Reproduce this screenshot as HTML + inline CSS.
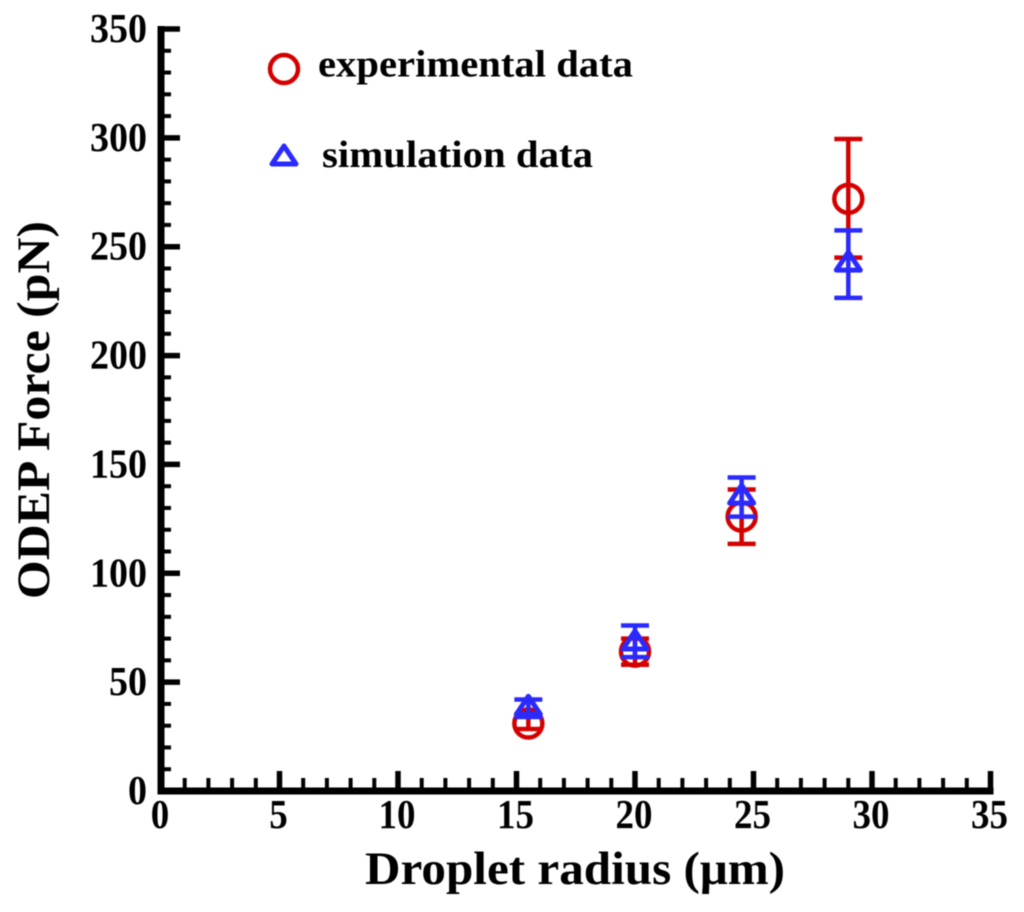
<!DOCTYPE html>
<html>
<head>
<meta charset="utf-8">
<title>ODEP Force vs Droplet radius</title>
<style>
html,body{margin:0;padding:0;background:#fff;}
svg{display:block;filter:blur(0.65px);}
text{font-family:"Liberation Serif",serif;font-weight:bold;fill:#000;}
</style>
</head>
<body>
<svg id="chart" xmlns="http://www.w3.org/2000/svg" width="1024" height="912" viewBox="0 0 1024 912">
  <g id="axes"></g>
  <g id="series-exp"></g>
  <g id="series-sim"></g>
  <text x="49" y="410" font-size="47" text-anchor="middle" transform="rotate(-90 49 410)" textLength="378" lengthAdjust="spacingAndGlyphs">ODEP Force (pN)</text>
  <text x="575" y="884" font-size="47" text-anchor="middle" textLength="420" lengthAdjust="spacingAndGlyphs">Droplet radius (μm)</text>
  <g>
    <circle cx="284" cy="69" r="14" fill="none" stroke="#d40000" stroke-width="4.5"></circle>
    <text x="318" y="76.5" font-size="38" textLength="315" lengthAdjust="spacingAndGlyphs">experimental data</text>
    <polygon points="284,146 296,164 272,164" fill="none" stroke="#2a2aff" stroke-width="5" stroke-linejoin="round"></polygon>
    <text x="322" y="167" font-size="38" textLength="271" lengthAdjust="spacingAndGlyphs">simulation data</text>
  </g>
</svg>
<script>
var xTicks = [0, 5, 10, 15, 20, 25, 30, 35];
var yTicks = [0, 50, 100, 150, 200, 250, 300, 350];
var radius = [15.5, 20, 24.5, 29];
var expValues = [31, 64, 126, 272];
var expUpper = [35, 70, 138.5, 299.5];
var expLower = [28.5, 58, 113.5, 245];
var simValues = [38, 68, 135, 242];
var simUpper = [42, 76, 144, 257.5];
var simLower = [34, 61.5, 126, 226.5];

var NS = 'http://www.w3.org/2000/svg';
function sx(v) { return 161 + v * (990.5 - 161) / 35; }
function sy(v) { return 791 - v * (791 - 29) / 350; }

function make(parent, tag, attrs) {
  var el = document.createElementNS(NS, tag);
  for (var k in attrs) { el.setAttribute(k, attrs[k]); }
  parent.appendChild(el);
  return el;
}

var axes = document.getElementById('axes');

var xAxisLine = make(axes, 'line', {x1: sx(0) - 3.5, x2: sx(35) + 3, y1: sy(0), y2: sy(0), stroke: '#000', 'stroke-width': 7});



var yAxisLine = make(axes, 'line', {x1: sx(0), x2: sx(0), y1: sy(350) - 3, y2: sy(0) + 3.5, stroke: '#000', 'stroke-width': 7});



xTicks.forEach(function (t, i) {
  if (i > 0) {
    var major = make(axes, 'line', {x1: sx(t), x2: sx(t), y1: sy(0), y2: 771, stroke: '#000', 'stroke-width': 5.5});
    
    
  }
  var xText = String(t);
  var label = make(axes, 'text', {x: sx(t) - 1, y: 828, 'font-size': 41, 'text-anchor': 'middle', textLength: xText.length * 18.5, lengthAdjust: 'spacingAndGlyphs'});
  label.textContent = xText;
  
  
  if (i < xTicks.length - 1) {
    var step = (xTicks[i + 1] - t) / 5;
    for (var m = 1; m < 5; m++) {
      var minor = make(axes, 'line', {x1: sx(t + m * step), x2: sx(t + m * step), y1: sy(0), y2: 778, stroke: '#000', 'stroke-width': 4});
      
      
    }
  }
});

yTicks.forEach(function (t, i) {
  if (i > 0) {
    var major = make(axes, 'line', {x1: sx(0), x2: 180, y1: sy(t), y2: sy(t), stroke: '#000', 'stroke-width': 5.5});
    
    
  }
  var yText = String(t);
  var label = make(axes, 'text', {x: 147, y: sy(t) + 13, 'font-size': 41, 'text-anchor': 'end', textLength: yText.length * 19, lengthAdjust: 'spacingAndGlyphs'});
  label.textContent = yText;
  
  
  if (i < yTicks.length - 1) {
    var step = (yTicks[i + 1] - t) / 5;
    for (var m = 1; m < 5; m++) {
      var minor = make(axes, 'line', {x1: sx(0), x2: 171, y1: sy(t + m * step), y2: sy(t + m * step), stroke: '#000', 'stroke-width': 4});
      
      
    }
  }
});

function errorBar(group, x, hi, lo, color) {
  var cx = sx(x), top = sy(hi), bottom = sy(lo);
  var stem = make(group, 'line', {x1: cx, x2: cx, y1: top, y2: bottom, stroke: color, 'stroke-width': 4.5});
  
  
  var capTop = make(group, 'line', {x1: cx - 14, x2: cx + 14, y1: top, y2: top, stroke: color, 'stroke-width': 4.5});
  
  
  var capBottom = make(group, 'line', {x1: cx - 14, x2: cx + 14, y1: bottom, y2: bottom, stroke: color, 'stroke-width': 4.5});
  
  
}

var expGroup = document.getElementById('series-exp');
radius.forEach(function (r, i) {
  errorBar(expGroup, r, expUpper[i], expLower[i], '#d40000');
  var point = make(expGroup, 'circle', {cx: sx(r), cy: sy(expValues[i]), r: 14, fill: 'none', stroke: '#d40000', 'stroke-width': 4.5});
  
  
});

var simGroup = document.getElementById('series-sim');
radius.forEach(function (r, i) {
  errorBar(simGroup, r, simUpper[i], simLower[i], '#2a2aff');
  var cx = sx(r), cy = sy(simValues[i]);
  var pts = cx + ',' + (cy - 12) + ' ' + (cx + 12) + ',' + (cy + 6) + ' ' + (cx - 12) + ',' + (cy + 6);
  var point = make(simGroup, 'polygon', {points: pts, fill: 'none', stroke: '#2a2aff', 'stroke-width': 5, 'stroke-linejoin': 'round'});
  
  
});
</script>
</body>
</html>
